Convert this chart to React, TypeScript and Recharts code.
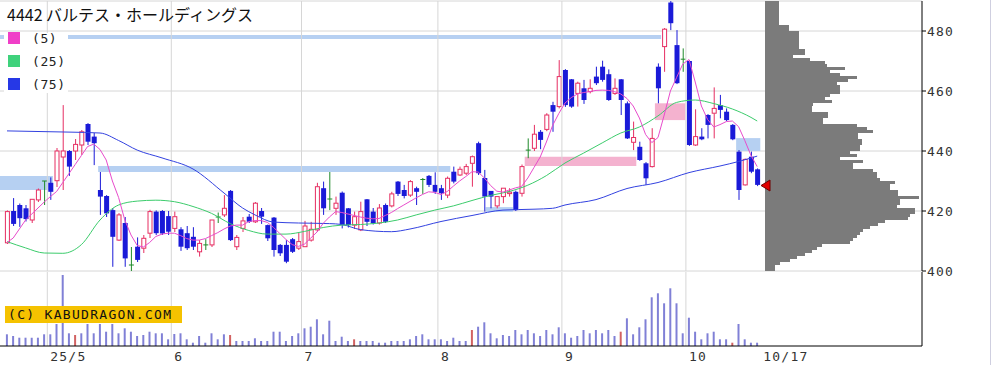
import {
  Bar,
  BarChart,
  CartesianGrid,
  Cell,
  ComposedChart,
  Line,
  ReferenceArea,
  ReferenceDot,
  ReferenceLine,
  XAxis,
  YAxis,
} from 'recharts';

// daily candles, 2025/4/21 .. 2025/10/17
const opens = [
  409.4, 420, 422, 420.9, 417, 423.7, 430, 429.4, 430.1, 438,
  440, 440, 442, 449, 444.8, 427, 425, 420.3, 410.3, 416,
  402, 408.1, 407.6, 412.6, 419.8, 420, 418.3, 414.2, 413.9, 412.6,
  411.4, 406.4, 408.7, 408.7, 418, 418.7, 426.7, 408.1, 414.2, 418.1,
  416.4, 420, 415.3, 417.8, 408.7, 408.7, 410.6, 407.6, 408.1, 410.3,
  413.7, 427.6, 424, 420.9, 426.1, 420.9, 415.3, 413.7, 423.9, 419.8,
  416, 422, 421.7, 429.8, 427, 425.3, 427.6, 430.5, 431.7, 428.7,
  427.6, 425.3, 433.1, 432, 432.6, 435.9, 442.6, 431, 426.7, 421.7,
  424.8, 425.8, 426.4, 425.9, 440.3, 440.9, 446.4, 447.2, 455.3, 454.8,
  467, 463.9, 459.2, 460.9, 459.8, 464.8, 468.1, 465.6, 459.2, 463.9,
  455.9, 442.9, 441.4, 435.9, 434.8, 468.1, 474.8, 489.5, 475.3, 470.6,
  470, 442, 444.8, 452, 452.6, 455.3, 453.1, 448.7, 439.8, 428.7,
  438.1, 433.9,
];
const highs = [
  420.2, 424.3, 422.5, 422, 424, 427.5, 430, 431.2, 441, 455.3,
  440.3, 444, 447, 449.3, 446, 433, 425.3, 421, 419.3, 418,
  408, 411.2, 412, 420.4, 420.2, 420.3, 420, 419.8, 414.6, 415,
  414.6, 410.3, 410.6, 417, 419.5, 425.3, 427, 412, 418, 419,
  423, 421, 415.5, 418, 409, 410.3, 411, 412.8, 416.7, 416.4,
  429.4, 429.8, 433, 424.8, 426.5, 421, 419.8, 423.1, 424, 421,
  422.3, 422.5, 426.4, 430, 428.7, 430.3, 428.1, 431, 432, 432.9,
  428.7, 431.5, 434.8, 434.8, 435.7, 438.5, 443.1, 433.7, 426.4, 424.8,
  427.6, 427.6, 426.8, 435.5, 444.2, 448.7, 447, 452.6, 456.4, 470.3,
  467.3, 464, 463.1, 463.7, 463.9, 468.1, 470.1, 467.2, 464.2, 464,
  456.5, 449.8, 443.1, 436.3, 447.6, 469.2, 481, 491, 480.3, 474.2,
  470.3, 453.9, 447.6, 452.3, 461.2, 458.7, 454.2, 449, 440.3, 437.5,
  439.8, 434.2,
];
const lows = [
  409, 415, 414.7, 416.5, 416, 423, 422, 423.7, 428, 427,
  431.7, 437, 438.7, 442, 435.3, 418.7, 418, 401.4, 410, 401.4,
  400, 403, 406, 411, 412, 412, 412, 413, 406.7, 407,
  407, 404.8, 407, 408, 416, 418, 410, 407, 413, 416,
  416, 415.7, 410, 404.8, 405, 402.6, 406, 407, 408, 409.8,
  413.1, 418.7, 420.3, 418.7, 414.2, 414.5, 414, 413.3, 415, 415.5,
  415.5, 416, 421.2, 425, 424.2, 424.7, 422, 425.7, 428, 425.7,
  423.7, 424.3, 429.2, 431.7, 432, 428.1, 432, 419.8, 420.9, 420.9,
  422.6, 424.8, 420, 424.8, 437.6, 440, 440.6, 446.6, 446.4, 454.2,
  454.7, 454.4, 454.8, 455.7, 459.2, 462, 463.1, 456.7, 458.7, 452,
  444, 440.3, 436.7, 428.7, 434.5, 455.9, 466.4, 480.3, 462.3, 466.4,
  441.7, 441.7, 443.6, 444.2, 444.2, 450.9, 450, 443.6, 423.7, 428.5,
  432.6, 428.3,
];
const closes = [
  419.8, 415.7, 417.6, 417.3, 423.9, 427, 430, 426.4, 440, 440,
  434.8, 442.2, 446.4, 443.1, 442.6, 424.8, 419.2, 411.4, 418.7, 404.2,
  402, 403.7, 410.9, 419.8, 412.6, 412.5, 413.1, 418.1, 408.1, 407.6,
  408.1, 409.2, 408.7, 417, 418, 420.9, 410.3, 411.2, 416.7, 416.4,
  422.6, 418.1, 410.9, 407, 405.9, 403.1, 406.4, 409.8, 415, 413.9,
  428.1, 420.9, 424, 422.6, 415.3, 415.3, 418.1, 419.8, 416.4, 415.9,
  421, 416.4, 425.7, 425.7, 425, 429.8, 426.4, 430.5, 428.7, 426.4,
  425.9, 430.9, 429.8, 433.9, 434.8, 438.1, 432.6, 424.8, 424.8, 424.8,
  427.6, 426.3, 420.3, 434.8, 440.3, 445.6, 443.7, 452, 453.1, 464.8,
  455.3, 454.8, 462.6, 457, 460.9, 462.6, 463.7, 457, 460.9, 457,
  444.2, 444.5, 437, 430.9, 444.2, 460.9, 480.6, 482.6, 462.6, 470.6,
  442, 444.8, 443.9, 448.7, 454.2, 453.7, 450.3, 443.9, 427, 437.2,
  433.1, 428.7,
];
const volumes = [
  11.7, 10, 8.3, 8.3, 8.3, 8.3, 11.7, 11.7, 22, 71,
  12.7, 11, 12.7, 22, 12.7, 22, 14.3, 22, 12.7, 17.7,
  14.3, 10, 11, 14.3, 12.7, 12.7, 6.7, 12, 12.7, 6.7,
  3.3, 10, 3.3, 12.7, 6.7, 11.7, 11, 5, 5, 5,
  7.7, 5, 5, 14.3, 14.3, 5, 10, 12.7, 17.7, 19.3,
  26.7, 11.7, 25.3, 5, 9.3, 5, 6.7, 5, 5, 5,
  3.3, 3.3, 5, 5, 5, 6.7, 10, 11.7, 6.7, 6.7,
  6.7, 5, 8.3, 5, 5, 16, 19.3, 23.7, 12.7, 7.7,
  11, 10, 16, 11.7, 16, 12.7, 10, 16, 11.7, 18.7,
  12.7, 8.3, 10, 16, 12.7, 16, 12.7, 16, 10, 14.3,
  27.7, 11.7, 18.7, 26.7, 48.7, 52.7, 42.7, 57.7, 42.7, 12.7,
  28.3, 14.3, 6.7, 12.7, 14.3, 6.7, 6.7, 3.3, 22, 6.7,
  3.3, 3.3,
];
const redVolumeDays = [11, 36, 56, 75, 99, 117];

const ma5 = [
  409.5, 411, 414, 417, 419, 421, 423, 424.8, 426.5, 429.5,
  432.5, 435.5, 438.5, 441.5, 442.3, 440.5, 437, 430, 424.5, 417,
  412, 408.5, 408, 409.5, 411.5, 412.3, 412.6, 412.6, 411.8, 410.8,
  410.3, 410.3, 410.8, 411.8, 412.8, 414, 415, 415.3, 415.3, 416.5,
  416.8, 416.8, 416.2, 414.5, 412.5, 410.5, 408.8, 408.2, 409, 411,
  413, 415.9, 418, 419.8, 419.5, 419, 418.5, 418, 417.6, 417.4,
  417.5, 418.5, 419.5, 420.8, 422, 423.2, 424.4, 425.5, 426.4, 426.2,
  425.5, 426.5, 428.3, 430, 431.5, 433.1, 433, 431, 428.5, 426.6,
  426.3, 427, 427.7, 428.2, 431, 434.5, 438, 443, 448.5, 452.5,
  456, 457.8, 459, 459.5, 459.8, 460.2, 460.3, 460.2, 459.8, 459,
  457.5, 455, 451, 445.5, 442.8, 444.5, 452, 460, 464.5, 469,
  470.5, 463, 455, 450.5, 448, 448.8, 449.8, 450, 448.1, 443.5,
  438.5, 434.8,
];
const ma25Days = [0, 3, 6, 9, 12, 15, 18, 21, 24, 27, 30, 33, 36, 39, 42, 45, 48, 51, 54, 57, 60, 63, 66, 69, 72, 75, 78, 81, 84, 87, 90, 93, 96, 99, 102, 105, 108, 111, 114, 117, 120, 121];
const ma25Values = [409.8, 407.7, 406, 405.9, 408.8, 417, 422, 423.3, 423.6, 423.1, 421.5, 419.2, 415.8, 413.5, 412.3, 412.3, 413.2, 414.5, 415.3, 415.5, 416, 417, 418.7, 420.3, 421.7, 423.5, 425.2, 426.5, 428.6, 431.8, 436, 439.3, 442.7, 446, 448, 451.7, 456.2, 457, 455.8, 454, 451.2, 450];
const ma75Days = [0, 5, 10, 15, 18, 21, 25, 30, 35, 38, 40, 43, 47, 52, 54, 57, 62, 65, 70, 75, 80, 85, 88, 90, 95, 100, 105, 110, 115, 118, 121];
const ma75Values = [446.7, 446.5, 446.3, 446, 443.5, 440.3, 437.7, 434, 426, 421, 418.7, 416.3, 416, 415.8, 415.5, 413.8, 413.1, 414, 416.5, 418.5, 420.3, 420.6, 420.9, 422, 423.8, 427.5, 429.5, 432.8, 435, 436.5, 438.3];

const monthStartDays = [7, 27, 48, 70, 90, 110];
const monthLabels = ['25/5', '6', '7', '8', '9', '10'];
const lastDayLabel = '10/17';
const priceTicks = [400, 420, 440, 460, 480];

// gap windows: [fromDay, toDay, low, high] (fromDay null = from chart start)
const blueZones: [number | null, number, number, number][] = [
  [null, 105.5, 477.3, 478.7],
  [null, 7.4, 427, 431.7],
  [14.7, 71.5, 433, 435],
  [77.2, 81.6, 419.7, 421.3],
  [117.6, 121.5, 440, 444.3],
];
const pinkZones: [number, number, number, number][] = [
  [83.5, 101.5, 435, 438.1],
  [104.5, 109.4, 450.3, 455.9],
];

// volume by price, 490 down to 401
const profileTop = 490;
const profileVolumes = [
  14, 14, 14, 14, 14, 14, 14, 14, 24, 24,
  34, 34, 34, 34, 34, 34, 40, 40, 28, 45,
  60, 62, 80, 65, 75, 92, 83, 72, 75, 75,
  75, 65, 60, 67, 48, 47, 47, 63, 63, 58,
  58, 92, 102, 108, 93, 93, 97, 97, 95, 95,
  85, 92, 75, 98, 88, 88, 108, 112, 112, 115,
  130, 125, 125, 133, 133, 154, 135, 135, 132, 150,
  150, 145, 143, 120, 113, 105, 98, 95, 92, 88,
  85, 57, 52, 47, 40, 32, 25, 15, 10, 10,
];

const N = closes.length;
const X0 = -1.13;
const X1 = 147.58;
const MONO = '"DejaVu Sans Mono", monospace';

const ma25: (number | null)[] = Array(N).fill(null);
ma25Days.forEach((d, k) => (ma25[d] = ma25Values[k]));
const ma75: (number | null)[] = Array(N).fill(null);
ma75Days.forEach((d, k) => (ma75[d] = ma75Values[k]));

const rows = closes.map((c, i) => ({
  day: i,
  open: opens[i],
  high: highs[i],
  low: lows[i],
  close: c,
  range: [lows[i], highs[i]],
  ma5: ma5[i],
  ma25: ma25[i],
  ma75: ma75[i],
  vol: volumes[i],
}));

const profileRows = profileVolumes.map((v, k) => ({ price: profileTop - k, vol: v }));
const monthLines = monthStartDays.map((d) => d - 0.5);
const xTicks = [...monthLines, N - 0.5];

const Candle = (props: any) => {
  const { x, y, width, height, payload } = props;
  if (y == null || Number.isNaN(y)) return null;
  const { open, close, high, low } = payload;
  const k = height / (high - low);
  const py = (v: number) => y + (high - v) * k;
  const cx = x + width / 2;
  const top = py(Math.max(open, close));
  const bot = py(Math.min(open, close));
  if (open === close) {
    return (
      <g stroke="#1f8a2a" strokeWidth={1}>
        <line x1={cx} x2={cx} y1={y} y2={y + height} />
        <line x1={cx - 2.5} x2={cx + 2.5} y1={top} y2={top} />
      </g>
    );
  }
  if (close > open) {
    return (
      <g stroke="#e62e62" strokeWidth={1} fill="#fff">
        <line x1={cx} x2={cx} y1={y} y2={top} />
        <line x1={cx} x2={cx} y1={bot} y2={y + height} />
        <rect x={cx - 2} y={top} width={4} height={Math.max(bot - top, 1)} />
      </g>
    );
  }
  return (
    <g>
      <line x1={cx} x2={cx} y1={y} y2={y + height} stroke="#1a1ad8" strokeWidth={1} />
      <rect x={cx - 2.5} y={top} width={5} height={Math.max(bot - top, 1)} fill="#1a1ad8" />
    </g>
  );
};

const PriceTick = (props: any) => {
  const { x, y, payload } = props;
  return (
    <text x={x + 1} y={y} dy={4.5} fontFamily={MONO} fontSize={13} letterSpacing={1.2} fill="#333" textAnchor="start">
      {payload.value}
    </text>
  );
};

const DateTick = (props: any) => {
  const { x, y, payload } = props;
  const k = monthLines.indexOf(payload.value);
  const label = k >= 0 ? monthLabels[k] : lastDayLabel;
  return (
    <text x={x + 3} y={y + 15} fontFamily={MONO} fontSize={13} letterSpacing={1.2} fill="#333" textAnchor="start">
      {label}
    </text>
  );
};

const Marker = (props: any) => {
  const { cx, cy } = props;
  return (
    <polygon
      points={`${cx - 4},${cy} ${cx + 5},${cy - 5.5} ${cx + 5},${cy + 5.5}`}
      fill="#e00000"
      stroke="#700000"
      strokeWidth={1}
    />
  );
};

const legendItems = [
  { label: '(5)', color: '#f03ec8' },
  { label: '(25)', color: '#3fd27c' },
  { label: '(75)', color: '#2638e6' },
];

export default function App() {
  return (
    <div style={{ position: 'absolute', left: 0, top: 0, width: 993, height: 365, background: '#fff', overflow: 'hidden' }}>
      <div style={{ position: 'absolute', left: 0, top: 272 }}>
        <ComposedChart width={993} height={93} data={rows} margin={{ top: 0, right: 0, bottom: 0, left: 0 }}>
          <XAxis
            type="number"
            dataKey="day"
            domain={[X0, X1]}
            allowDataOverflow
            ticks={xTicks}
            interval={0}
            height={19}
            axisLine={{ stroke: '#000' }}
            tickLine={false}
            tickSize={0}
            tickMargin={0}
            tick={<DateTick />}
          />
          <YAxis orientation="right" width={71} domain={[0, 74]} tick={false} tickLine={false} axisLine={{ stroke: '#000' }} />
          {monthLines.map((d) => (
            <ReferenceLine key={d} x={d} stroke="#d6d6d6" />
          ))}
          <Bar dataKey="vol" barSize={2} isAnimationActive={false}>
            {rows.map((r) => (
              <Cell key={r.day} fill={redVolumeDays.includes(r.day) ? '#d26262' : '#8080d6'} />
            ))}
          </Bar>
        </ComposedChart>
      </div>

      <div style={{ position: 'absolute', left: 0, top: 0 }}>
        <ComposedChart width={993} height={284} data={rows} margin={{ top: 1, right: 0, bottom: 13, left: 0 }}>
          <CartesianGrid vertical={false} stroke="#d6d6d6" />
          <XAxis type="number" dataKey="day" domain={[X0, X1]} hide allowDataOverflow />
          <YAxis
            orientation="right"
            domain={[400, 490]}
            ticks={priceTicks}
            allowDataOverflow
            width={71}
            interval={0}
            axisLine={{ stroke: '#000' }}
            tickLine={{ stroke: '#000' }}
            tickSize={4}
            tickMargin={0}
            tick={<PriceTick />}
          />
          {monthLines.map((d) => (
            <ReferenceLine key={d} x={d} stroke="#d6d6d6" />
          ))}
          {blueZones.map(([a, b, lo, hi], k) => (
            <ReferenceArea key={`b${k}`} x1={a ?? undefined} x2={b} y1={lo} y2={hi} fill="#b6d0f2" fillOpacity={1} stroke="none" />
          ))}
          {pinkZones.map(([a, b, lo, hi], k) => (
            <ReferenceArea key={`p${k}`} x1={a} x2={b} y1={lo} y2={hi} fill="#f4b2cf" fillOpacity={1} stroke="none" />
          ))}
          <Line type="monotone" dataKey="ma75" stroke="#3342e0" strokeWidth={1} dot={false} connectNulls isAnimationActive={false} />
          <Line type="monotone" dataKey="ma25" stroke="#3ccc6c" strokeWidth={1} dot={false} connectNulls isAnimationActive={false} />
          <Bar dataKey="range" barSize={5} shape={<Candle />} isAnimationActive={false} />
          <Line type="linear" dataKey="ma5" stroke="#e84ccc" strokeWidth={1} dot={false} isAnimationActive={false} />
        </ComposedChart>
      </div>

      <div style={{ position: 'absolute', left: 760, top: 0 }}>
        <BarChart
          layout="vertical"
          width={162}
          height={272}
          data={profileRows}
          margin={{ top: 1, right: 0, bottom: 1, left: 5 }}
          barCategoryGap={0}
        >
          <XAxis type="number" domain={[0, 157]} hide />
          <YAxis type="category" dataKey="price" hide />
          <Bar dataKey="vol" fill="#7b7b7b" isAnimationActive={false} />
          <ReferenceDot x={0} y={Math.round(closes[N - 1])} ifOverflow="visible" shape={<Marker />} />
        </BarChart>
      </div>

      <div
        style={{
          position: 'absolute',
          left: 7,
          top: 3,
          fontFamily: '"Noto Sans CJK JP", sans-serif',
          fontSize: 16,
          lineHeight: '22px',
          color: '#111',
          whiteSpace: 'nowrap',
        }}
      >
        4442 バルテス・ホールディングス
      </div>
      <div style={{ position: 'absolute', left: 4, top: 33, width: 64, height: 60, background: '#fff' }}>
        {legendItems.map((it, k) => (
          <div key={it.label} style={{ position: 'absolute', left: 4, top: k * 23 - 1, height: 12, display: 'flex', alignItems: 'center' }}>
            <div style={{ width: 12, height: 12, background: it.color }} />
            <span style={{ marginLeft: 12, fontFamily: MONO, fontSize: 13, letterSpacing: 0.6, color: '#222' }}>{it.label}</span>
          </div>
        ))}
      </div>
      <div
        style={{
          position: 'absolute',
          left: 5,
          top: 306,
          width: 177,
          height: 17,
          background: '#f5c200',
          fontFamily: MONO,
          fontSize: 13,
          lineHeight: '17px',
          letterSpacing: 1.3,
          color: '#111',
          paddingLeft: 3,
          boxSizing: 'border-box',
          whiteSpace: 'nowrap',
        }}
      >
        (C) KABUDRAGON.COM
      </div>
      <div style={{ position: 'absolute', left: 990, top: 0, width: 1, height: 365, background: '#cfcfe0' }} />
    </div>
  );
}
